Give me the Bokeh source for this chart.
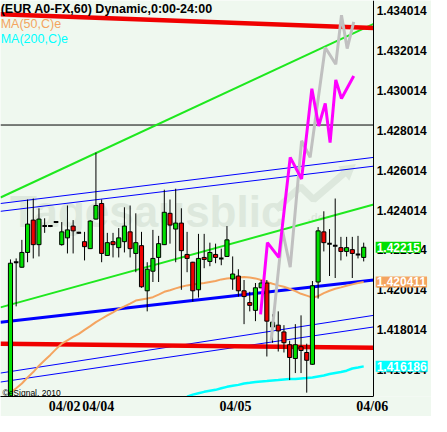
from bokeh.plotting import figure
from bokeh.models import Range1d, FixedTicker, PrintfTickFormatter, Label
from bokeh.core.properties import value
from bokeh.embed import file_html
from bokeh.resources import INLINE

# ---------------- data (EUR A0-FX, 60 min bars) ----------------
opens = [1.41380, 1.42140, 1.42115, 1.42189, 1.42351, 1.42228, 1.42321, 1.42321, 1.42341, 1.42228,
         1.42262, 1.42321, 1.42287, 1.42243, 1.42208, 1.42356, 1.42434, 1.42174, 1.42243, 1.42213,
         1.42243, 1.42292, 1.42184, 1.42223, 1.41997, 1.42095, 1.42164, 1.42228, 1.42385, 1.42306,
         1.42336, 1.42179, 1.42140, 1.42002, 1.42164, 1.42144, 1.42179, 1.42159, 1.42169, 1.42056,
         1.42071, 1.41997, 1.41938, 1.41899, 1.42012, 1.42036, 1.41816, 1.41825, 1.41791, 1.41727,
         1.41658, 1.41717, 1.41688, 1.41629, 1.42041, 1.42292, 1.42233, 1.42223, 1.42213, 1.42194,
         1.42203, 1.42179, 1.42164]
highs = [1.42154, 1.42159, 1.42252, 1.42454, 1.42459, 1.42410, 1.42360, 1.42326, 1.42346, 1.42341,
         1.42424, 1.42351, 1.42292, 1.42292, 1.42351, 1.42689, 1.42454, 1.42287, 1.42287, 1.42311,
         1.42415, 1.42424, 1.42385, 1.42292, 1.42140, 1.42302, 1.42272, 1.42503, 1.42454, 1.42508,
         1.42410, 1.42292, 1.42142, 1.42282, 1.42282, 1.42238, 1.42233, 1.42208, 1.42321, 1.42169,
         1.42105, 1.42051, 1.41992, 1.42036, 1.42051, 1.42051, 1.41879, 1.41894, 1.41825, 1.41747,
         1.41830, 1.41874, 1.41732, 1.42046, 1.42316, 1.42395, 1.42306, 1.42459, 1.42267, 1.42267,
         1.42267, 1.42272, 1.42238]
lows = [1.41360, 1.41919, 1.42113, 1.42140, 1.42159, 1.42169, 1.42287, 1.42316, 1.42336, 1.42223,
        1.42184, 1.42184, 1.42282, 1.42149, 1.42206, 1.42354, 1.42140, 1.42172, 1.42164, 1.42164,
        1.42189, 1.42164, 1.42090, 1.42012, 1.41894, 1.42041, 1.42041, 1.42226, 1.42233, 1.42140,
        1.42002, 1.42090, 1.41943, 1.41963, 1.42110, 1.42120, 1.42135, 1.42125, 1.42167, 1.42002,
        1.41968, 1.41830, 1.41894, 1.41845, 1.42010, 1.41668, 1.41737, 1.41693, 1.41688, 1.41550,
        1.41585, 1.41585, 1.41487, 1.41627, 1.41958, 1.42194, 1.42071, 1.42061, 1.42149, 1.42169,
        1.42061, 1.42159, 1.42144]
closes = [1.42135, 1.42140, 1.42189, 1.42331, 1.42228, 1.42356, 1.42321, 1.42321, 1.42341, 1.42292,
          1.42302, 1.42297, 1.42287, 1.42218, 1.42346, 1.42424, 1.42184, 1.42238, 1.42228, 1.42262,
          1.42321, 1.42208, 1.42238, 1.42017, 1.42105, 1.42159, 1.42233, 1.42390, 1.42326, 1.42336,
          1.42198, 1.42159, 1.41997, 1.42159, 1.42154, 1.42189, 1.42164, 1.42159, 1.42252, 1.42081,
          1.41997, 1.41968, 1.41924, 1.42012, 1.42036, 1.41845, 1.41840, 1.41796, 1.41737, 1.41663,
          1.41727, 1.41698, 1.41649, 1.42022, 1.42297, 1.42238, 1.42233, 1.42223, 1.42194, 1.42213,
          1.42184, 1.42179, 1.42215]

ma50 = [1.41487, 1.41509, 1.41533, 1.41563, 1.41590, 1.41622, 1.41649, 1.41676, 1.41705, 1.41732,
        1.41749, 1.41766, 1.41781, 1.41801, 1.41820, 1.41840, 1.41857, 1.41874, 1.41889, 1.41906,
        1.41919, 1.41933, 1.41948, 1.41953, 1.41958, 1.41965, 1.41978, 1.41992, 1.42000, 1.42009,
        1.42017, 1.42024, 1.42029, 1.42032, 1.42036, 1.42041, 1.42046, 1.42054, 1.42059, 1.42061,
        1.42063, 1.42066, 1.42063, 1.42059, 1.42051, 1.42041, 1.42032, 1.42024, 1.42017, 1.42007,
        1.41995, 1.41982, 1.41973, 1.41963, 1.41970, 1.41985, 1.41997, 1.42007, 1.42014, 1.42022,
        1.42029, 1.42036, 1.420411]
ma200_first_bar = 31
ma200 = [1.41467, 1.41477, 1.41484, 1.41491, 1.41496, 1.41501, 1.41509, 1.41516, 1.41521, 1.41526,
         1.41533, 1.41536, 1.41540, 1.41543, 1.41545, 1.41548, 1.41550, 1.41553, 1.41555, 1.41555,
         1.41558, 1.41560, 1.41563, 1.41568, 1.41573, 1.41580, 1.41585, 1.41590, 1.41597, 1.41608,
         1.41613, 1.416186]

# projection zig-zags (x in bar units)
magenta_x = [43.9, 45.1, 47.1, 49.1, 51.1, 52.9, 54.1, 55.25, 56.1, 57.1, 58.1, 60.25]
magenta_y = [1.41879, 1.42238, 1.42164, 1.42665, 1.42557, 1.43009, 1.42822, 1.42935, 1.42739,
             1.43053, 1.42960, 1.43072]
grey_x = [45.75, 47.75, 49.1, 51.1, 52.6, 55.25, 57.1, 58.1, 59.1, 60.25]
grey_y = [1.41747, 1.42297, 1.42115, 1.42748, 1.42665, 1.43215, 1.43131, 1.43377, 1.43210, 1.43343]

# trend lines: start / end price at left / right chart edge
line_x = [-1.75, 63.75]
red_top = [1.43382, 1.43313]
red_bottom = [1.41732, 1.41712]
green_upper = [1.42464, 1.43333]
green_lower = [1.41914, 1.42429]
blue_thick = [1.41840, 1.42051]
blue_thin = [[1.42434, 1.42665], [1.42395, 1.42621], [1.41585, 1.41874], [1.41540, 1.41816]]
black_level = 1.42827

y_ticks = [1.416014, 1.418014, 1.420014, 1.422014, 1.424014, 1.426014, 1.428014, 1.430014,
           1.432014, 1.434014]
x_tick_pos = [9.5, 15.4, 39.5, 63.5]
x_tick_labels = ["04/02", "04/04", "04/05", "04/06"]

box_values = [1.42215, 1.420411, 1.416186]
box_texts = ["1.42215", "1.420411", "1.416186"]

# ---------------- styling ----------------
BG = "#eff8ef"
WM = "#dde8dd"
GREEN = "#00e000"
LGREEN = "#1ee81e"
RED = "#ee0000"
ORANGE = "#f4a460"
CYAN = "#00ffff"
MAGENTA = "#ff00ff"
GREY = "#c0c0c0"
BLUE = "#0000ff"

X_LEFT, X_AXIS, X_RIGHT = -1.75, 63.75, 73.9

n = len(opens)
bars = list(range(n))

p = figure(width=431, height=416, x_range=Range1d(X_LEFT, X_RIGHT),
           y_range=Range1d(1.414677, 1.434505), y_axis_location="right",
           output_backend="svg", toolbar_location=None,
           min_border_left=0, min_border_top=0, min_border_right=0, min_border_bottom=0)
p.background_fill_color = BG
p.border_fill_color = BG
p.outline_line_color = None
p.xgrid.visible = False
p.ygrid.visible = False

# watermark
p.text(x=[-0.1], y=[1.42395], text=["Tagesausblic"], text_font=value("Liberation Sans"),
       text_font_style="bold", text_font_size="44px", text_color=WM, text_baseline="alphabetic")
p.line(x=[46.6, 50.9, 53.2, 58.6], y=[1.42405, 1.42518, 1.42454, 1.42586], line_color=WM,
       line_width=7)
p.scatter(x=[59.2], y=[1.42600], marker="triangle", size=18, angle=-0.9,
          fill_color=WM, line_color=None)
p.text(x=[52.2], y=[1.42365], text=[".de"], text_font=value("Liberation Sans"),
       text_font_style="bold", text_font_size="11px", text_color=WM, text_baseline="alphabetic")

# trend lines
p.line(x=line_x, y=[black_level, black_level], line_color="black", line_width=1)
for yy in blue_thin:
    p.line(x=line_x, y=yy, line_color=BLUE, line_width=1)
p.line(x=line_x, y=blue_thick, line_color=BLUE, line_width=3)
p.line(x=line_x, y=green_upper, line_color=LGREEN, line_width=2)
p.line(x=line_x, y=green_lower, line_color=LGREEN, line_width=2)
p.line(x=line_x, y=red_top, line_color="#f00000", line_width=4.5)
p.line(x=line_x, y=red_bottom, line_color="#f00000", line_width=4.5)

# moving averages
p.line(x=bars, y=ma50, line_color=ORANGE, line_width=2)
p.line(x=list(range(ma200_first_bar, ma200_first_bar + len(ma200))), y=ma200,
       line_color=CYAN, line_width=2.5)

# candles
inc = [i for i in bars if closes[i] > opens[i]]
dec = [i for i in bars if closes[i] < opens[i]]
doj = [i for i in bars if closes[i] == opens[i]]
p.segment(x0=bars, y0=lows, x1=bars, y1=highs, line_color="black", line_width=1)
p.vbar(x=inc, width=0.72, top=[closes[i] for i in inc], bottom=[opens[i] for i in inc],
       fill_color=GREEN, line_color="black", line_width=1)
p.vbar(x=dec, width=0.72, top=[opens[i] for i in dec], bottom=[closes[i] for i in dec],
       fill_color=RED, line_color="black", line_width=1)
p.segment(x0=[i - 0.4 for i in doj], x1=[i + 0.4 for i in doj],
          y0=[closes[i] for i in doj], y1=[closes[i] for i in doj],
          line_color="black", line_width=2)

# projections
p.line(x=grey_x, y=grey_y, line_color=GREY, line_width=3)
p.line(x=magenta_x, y=magenta_y, line_color=MAGENTA, line_width=3)

# in-chart texts
p.text(x=[-1.72], y=[1.43443], text=["(EUR A0-FX,60) Dynamic,0:00-24:00"],
       text_font=value("Liberation Sans"), text_font_style="bold", text_font_size="12.5px",
       text_color="black", text_baseline="top")
p.text(x=[-1.72], y=[1.43367], text=["MA(50,C)e"], text_font=value("Liberation Sans"),
       text_font_size="12.5px", text_color=ORANGE, text_baseline="top")
p.text(x=[-1.72], y=[1.43293], text=["MA(200,C)e"], text_font=value("Liberation Sans"),
       text_font_size="12.5px", text_color=CYAN, text_baseline="top")
p.text(x=[-1.42], y=[1.41487], text=["\u00a9eSignal, 2010"], text_font=value("Liberation Sans"),
       text_font_size="8.5px", text_color="black", text_baseline="alphabetic")

# price axis, drawn at the right edge of the chart area
ya = p.yaxis[0]
ya.fixed_location = X_AXIS
ya.ticker = FixedTicker(ticks=y_ticks)
ya.formatter = PrintfTickFormatter(format="%.6f")
ya.major_label_text_font = "Liberation Sans"
ya.major_label_text_font_style = "bold"
ya.major_label_text_font_size = "12px"
ya.major_label_text_color = "black"
ya.major_tick_in = 0
ya.major_tick_out = 0
ya.minor_tick_line_color = None
ya.axis_line_color = "black"
ya.major_label_standoff = 3

xa = p.xaxis[0]
xa.bounds = (X_LEFT, X_AXIS)
xa.ticker = FixedTicker(ticks=x_tick_pos)
xa.major_label_overrides = dict(zip(x_tick_pos, x_tick_labels))
xa.major_label_text_font = "Liberation Serif"
xa.major_label_text_font_style = "bold"
xa.major_label_text_font_size = "14px"
xa.major_label_text_color = "black"
xa.major_tick_in = 0
xa.major_tick_out = 0
xa.minor_tick_line_color = None
xa.axis_line_color = "black"
xa.major_label_standoff = 2

# value boxes on the price axis
for val, txt, col in zip(box_values, box_texts, [GREEN, ORANGE, CYAN]):
    p.add_layout(Label(x=X_AXIS + 0.35, y=val, text=txt, text_font="Liberation Sans",
                       text_font_style="bold", text_font_size="12px", text_color="white",
                       text_baseline="middle", background_fill_color=col, padding=1))

open("out.html", "w").write(file_html(p, INLINE))
